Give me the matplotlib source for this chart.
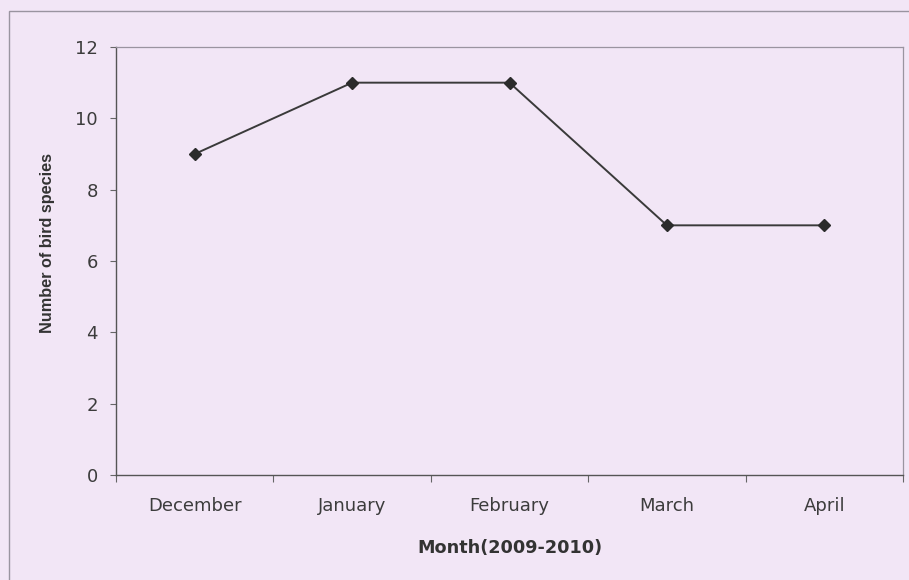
import matplotlib
matplotlib.use("Agg")
import matplotlib.pyplot as plt
from matplotlib.patches import Rectangle

months = ["December", "January", "February", "March", "April"]
species = [9, 11, 11, 7, 7]
y_ticks = [0, 2, 4, 6, 8, 10, 12]

W, H = 909, 580
bg = "#f2e6f6"

fig = plt.figure(figsize=(W / 100, H / 100), dpi=100, facecolor=bg)

# outer chart frame
fig.patches.append(Rectangle((9 / W, -0.05), 1.2, 1 - 11 / H + 0.05,
                             transform=fig.transFigure, fill=False,
                             edgecolor="#9a94a0", linewidth=1.0, zorder=0))

left, right, top, bottom = 116, 903, 47, 475
ax = fig.add_axes([left / W, 1 - bottom / H, (right - left) / W, (bottom - top) / H])
ax.set_facecolor(bg)

x = list(range(len(months)))
ax.plot(x, species, color="#3a3a3a", linewidth=1.4, marker="D",
        markersize=6, markerfacecolor="#2b2b2b", markeredgecolor="#2b2b2b",
        zorder=3)

ax.set_xlim(-0.5, len(months) - 0.5)
ax.set_ylim(0, 12)

# category boundaries carry the tick marks, names sit at the centres
ax.set_xticks([i + 0.5 for i in range(-1, len(months))])
ax.set_xticklabels([])
ax.set_xticks(x, minor=True)
ax.set_xticklabels(months, minor=True, fontsize=13, color="#3c3c3c")
ax.tick_params(axis="x", which="major", direction="out", length=5,
               width=0.8, color="#666666")
ax.tick_params(axis="x", which="minor", length=0, pad=15.5)

ax.set_yticks(y_ticks)
ax.set_yticklabels([str(v) for v in y_ticks], fontsize=13, color="#3c3c3c")
ax.tick_params(axis="y", direction="out", length=4, width=0.8,
               color="#666666", pad=9)

for side in ("left", "bottom"):
    ax.spines[side].set_color("#555555")
    ax.spines[side].set_linewidth(1.0)
for side in ("top", "right"):
    ax.spines[side].set_color("#9a94a0")
    ax.spines[side].set_linewidth(0.9)

fig.text((left + right) / 2 / W, 1 - 548 / H, "Month(2009-2010)",
         ha="center", va="center", fontsize=12.7, fontweight="bold",
         color="#333333")
fig.text(48 / W, 1 - 243 / H, "Number of bird species", rotation=90,
         ha="center", va="center", fontsize=11.7, fontweight="bold",
         family="Liberation Sans", color="#333333")

fig.savefig("out.png", dpi=100, facecolor=bg)
